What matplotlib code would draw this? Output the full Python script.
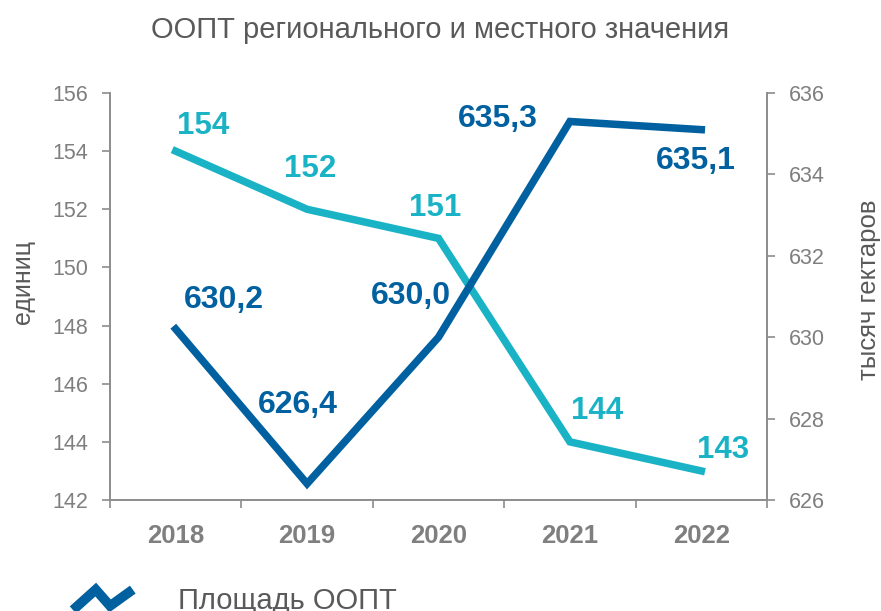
import numpy as np
import matplotlib
matplotlib.use("Agg")
import matplotlib.pyplot as plt
from matplotlib.lines import Line2D
from matplotlib.legend_handler import HandlerBase

plt.rcParams['font.family'] = ['Liberation Sans', 'DejaVu Sans']

years = ["2018", "2019", "2020", "2021", "2022"]
count = [154, 152, 151, 144, 143]
area = [630.2, 626.4, 630.0, 635.3, 635.1]
count_labels = ["154", "152", "151", "144", "143"]
area_labels = ["630,2", "626,4", "630,0", "635,3", "635,1"]

DARK = "#0060A0"
TEAL = "#1AB3C6"
GRAY = "#7F7F7F"
AXC = "#8C8C8C"
TXT = "#595959"

W, H = 881, 611
fig = plt.figure(figsize=(8.81, 6.11), dpi=100)
ax = fig.add_axes([110/W, 1-500/H, (767-110)/W, (500-93)/H])
ax2 = ax.twinx()

x = np.arange(len(years))
ax.plot(x, count, color=TEAL, lw=5.4, solid_joinstyle='miter', zorder=3)
l2, = ax2.plot(x, area, color=DARK, lw=5.4, solid_joinstyle='miter', zorder=3)

ax.set_xlim(-0.5, len(years)-0.5)
ax.set_ylim(142, 156)
ax.set_yticks(np.arange(142, 157, 2))
ax2.set_ylim(626, 636)
ax2.set_yticks(np.arange(626, 637, 2))

ax.set_xticks(np.arange(-0.5, len(years), 1.0))
ax.set_xticklabels([])
ax.set_xticks(x, minor=True)
ax.set_xticklabels(years, minor=True, fontsize=18.5, fontweight='bold', color=GRAY)
ax.tick_params(axis='x', which='major', length=6, color=AXC, width=1.2, direction='out')
ax.tick_params(axis='x', which='minor', length=0, pad=17)

ax.tick_params(axis='y', length=6, color=AXC, width=1.2, labelsize=15.5, labelcolor=GRAY, pad=10)
ax2.tick_params(axis='y', length=6, color=AXC, width=1.2, labelsize=15.5, labelcolor=GRAY, pad=10)

for a in (ax, ax2):
    a.spines['top'].set_visible(False)
    for s in ('left', 'right', 'bottom'):
        a.spines[s].set_color(AXC)
        a.spines[s].set_linewidth(1.2)

fig.text(23/W, 1-282/H, "единиц", rotation=90, ha='center', va='center',
         fontsize=18, color=TXT)
fig.text(869/W, 1-290/H, "тысяч гектаров", rotation=90, ha='center', va='center',
         fontsize=18.5, color=TXT)

fig.text(0.5, 1-30/H, "ООПТ регионального и местного значения", ha='center', va='center',
         fontsize=21, color=TXT)

count_off = [(27, 25), (3, 40), (-3, 30), (27, 31), (22, 21)]
area_off = [(48, 29), (-9, 79), (-28, 41), (-72, 2), (-5, -31)]
for i in range(len(years)):
    ax.annotate(count_labels[i], (x[i], count[i]), xytext=count_off[i], textcoords='offset pixels',
                ha='center', va='center', fontsize=22.5, fontweight='bold', color=TEAL)
    ax2.annotate(area_labels[i], (x[i], area[i]), xytext=area_off[i], textcoords='offset pixels',
                 ha='center', va='center', fontsize=23, fontweight='bold', color=DARK)


class ZigZagHandler(HandlerBase):
    def create_artists(self, legend, orig_handle, xdescent, ydescent, width, height, fontsize, trans):
        xs = np.array([0.0, 0.38, 0.62, 1.0]) * width - xdescent
        ys = np.array([-0.05, 0.95, 0.15, 0.95]) * height - ydescent
        ln = Line2D(xs, ys, color=orig_handle.get_color(), lw=7, solid_joinstyle='miter',
                    solid_capstyle='butt')
        ln.set_transform(trans)
        return [ln]


fig.legend([l2], ["Площадь ООПТ"], handler_map={Line2D: ZigZagHandler()},
           loc='center left', bbox_to_anchor=(73/W, 1-601/H), frameon=False,
           fontsize=21, labelcolor=TXT, handlelength=2.05, handletextpad=1.55,
           borderpad=0, borderaxespad=0)

fig.savefig("out.png", dpi=100)
